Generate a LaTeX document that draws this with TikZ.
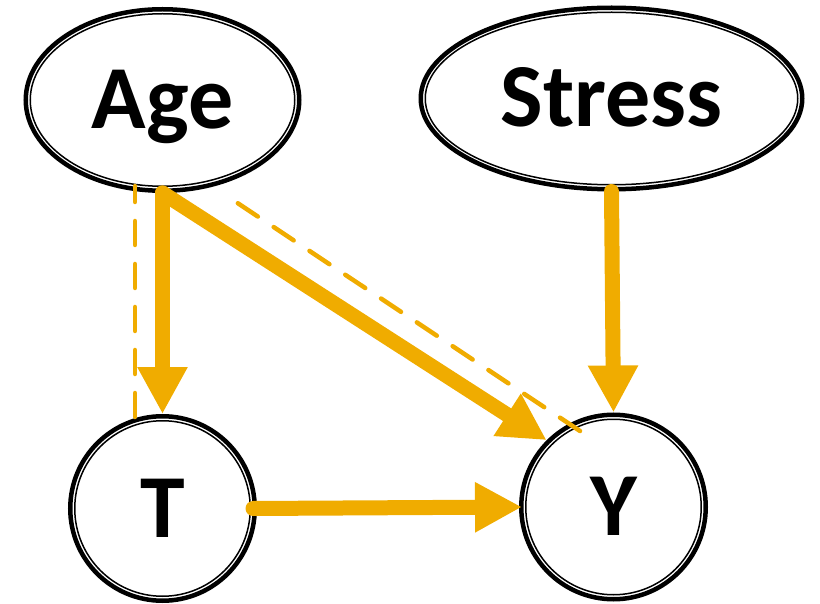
\documentclass[tikz,border=0pt]{standalone}
\usepackage{fontspec}
\setmainfont{Carlito}
\usetikzlibrary{shapes.geometric,arrows.meta}
\definecolor{dagorange}{HTML}{F0AC00}

\begin{document}
\begin{tikzpicture}[x=1pt,y=-1pt,
  var/.style={draw=black,line width=4.5pt,fill=white,inner sep=0pt,
    font=\fontsize{90}{98}\selectfont\bfseries,text height=57pt,text depth=0pt},
  ring/.style={draw=black,line width=1.5pt},
  cause/.style={draw=dagorange,line width=15pt,line cap=round,
    -{Triangle[width=47pt,length=47pt]}},
  backdoor/.style={draw=dagorange,line width=4.5pt,line cap=round,dash pattern=on 24pt off 19pt}]
  \useasboundingbox (0,0) rectangle (820,604);
  % variables
  \node[var,ellipse,minimum width=273.5pt,minimum height=181.5pt] (age) at (162.5,100) {Age};
  \node[var,ellipse,minimum width=381.5pt,minimum height=181.5pt] (stress) at (611.5,98.5) {Stress};
  \node[var,circle,minimum size=184.5pt] (t) at (162.5,508.5) {T};
  \node[var,circle,minimum size=184.5pt] (y) at (613.5,507) {Y};
  \draw[ring] (age) ellipse [x radius=132.25pt, y radius=86.25pt];
  \draw[ring] (stress) ellipse [x radius=186.25pt, y radius=86.25pt];
  \foreach \v in {t,y}
    \draw[ring] (\v) circle [radius=87.75pt];
  % causal arrows
  \draw[cause] (age.south) -- (t.north);
  \draw[cause] (age.south) -- (y.north west);
  \draw[cause] (stress.south) -- (y.north);
  \draw[cause] ([xshift=-4pt]t.east) -- ([xshift=3pt]y.west);
  % backdoor path
  \coordinate (tb) at (135,417);
  \coordinate (ab) at (135,186);
  \coordinate (yb) at (580,431);
  \coordinate (ab2) at (227,196);
  \draw[backdoor] (tb) -- (ab);
  \draw[backdoor] (yb) -- (ab2);
\end{tikzpicture}
\end{document}
